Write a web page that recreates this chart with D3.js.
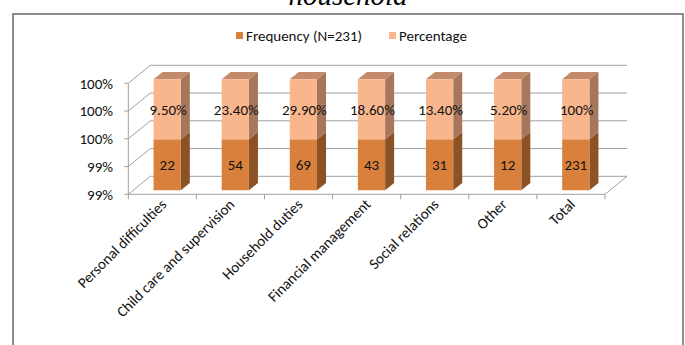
<!DOCTYPE html>
<html>
<head>
<meta charset="utf-8">
<script src="https://cdn.jsdelivr.net/npm/d3@7"></script>
<style>
  body { margin: 0; background: #fff; }
  svg { display: block; }
  text { font-family: Calibri, Carlito, "Open Sans", sans-serif; fill: #111; }
</style>
</head>
<body>
<svg id="chart" width="685" height="345"></svg>
<script>
// categories and labels
let categories = ['Personal difficulties', 'Child care and supervision', 'Household duties',
  'Financial management', 'Social relations', 'Other', 'Total'];
let frequency = [22, 54, 69, 43, 31, 12, 231];
let percentage = ['9.50%', '23.40%', '29.90%', '18.60%', '13.40%', '5.20%', '100%'];

// stack levels in axis units (the axis runs over 4 tick steps)
let freqTop = [1.84, 1.84, 1.84, 1.84, 1.84, 1.84, 1.84];
let pctTop = [4, 4, 4, 4, 4, 4, 4];

let tickValues = [0, 1, 2, 3, 4];
let tickLabels = ['99%', '99%', '100%', '100%', '100%'];

let seriesNames = ['Frequency (N=231)', 'Percentage'];

let colors = {
  freq: {front: '#d9813c', side: '#8b5226', top: '#b06a35'},
  pct: {front: '#f9b68d', side: '#a6775c', top: '#c48a6c'}
};

let fontSize = '15px';

let svg = d3.select('#chart');

// frame + clipped title
svg.append('rect')
  .attr('x', 13).attr('y', 14)
  .attr('width', 670).attr('height', 345)
  .attr('fill', 'none')
  .attr('stroke', '#8c8c8c')
  .attr('stroke-width', 2);

svg.append('text')
  .attr('x', 348).attr('y', 5)
  .attr('text-anchor', 'middle')
  .style('font-family', '"Liberation Serif", "DejaVu Serif", serif')
  .style('font-style', 'italic')
  .style('font-size', '29px')
  .style('fill', '#000')
  .text('household');

// 3d box geometry
let depth = {dx: 22, dy: -18};
let x = d3.scaleBand().domain(categories).range([128.3, 605]);
let y = d3.scaleLinear().domain([0, 4]).range([194.3, 83.3]);

function proj(px, py, z) {
  return [px + z * depth.dx, py + z * depth.dy];
}

let grid = svg.append('g').attr('stroke', '#a0a0a0').attr('fill', 'none').attr('stroke-width', 1);

// back wall gridlines and left wall diagonals
tickValues.forEach(t => {
  let f = proj(x.range()[0], y(t), 0);
  let b = proj(x.range()[0], y(t), 1);
  let br = proj(x.range()[1], y(t), 1);
  grid.append('path').attr('d', `M${f}L${b}L${br}`);
  grid.append('line')
    .attr('x1', f[0] - 4).attr('x2', f[0])
    .attr('y1', f[1]).attr('y2', f[1]);
});

// vertical axis line
grid.append('line')
  .attr('x1', x.range()[0]).attr('x2', x.range()[0])
  .attr('y1', y(0)).attr('y2', y(4));

// floor front + right diagonal
let fl = proj(x.range()[0], y(0), 0);
let fr = proj(x.range()[1], y(0), 0);
let br = proj(x.range()[1], y(0), 1);
grid.append('path').attr('d', `M${fl}L${fr}L${br}`);

// category ticks
let edges = categories.map(c => x(c)).concat([x.range()[1]]);
edges.forEach(e => {
  grid.append('line')
    .attr('x1', e).attr('x2', e)
    .attr('y1', y(0)).attr('y2', y(0) + 5);
});

// y labels
svg.append('g').selectAll('text')
  .data(tickValues)
  .join('text')
  .attr('x', 113)
  .attr('y', d => y(d))
  .attr('dy', '0.35em')
  .attr('text-anchor', 'end')
  .style('font-size', fontSize)
  .text((d, i) => tickLabels[i]);

// bars
let zf = 0.22, zb = 0.63;
let barW = x.bandwidth() * 0.4;

function drawSegment(g, cx, y0, y1, col, withTop) {
  let xl = cx - barW / 2, xr = cx + barW / 2;
  let a = proj(xl, y(y1), zf), b = proj(xr, y(y1), zf);
  let c = proj(xr, y(y0), zf), d = proj(xl, y(y0), zf);
  let bt = proj(xr, y(y1), zb), bb = proj(xr, y(y0), zb), at = proj(xl, y(y1), zb);
  g.append('path').attr('d', `M${b}L${bt}L${bb}L${c}Z`).attr('fill', col.side);
  if (withTop) g.append('path').attr('d', `M${a}L${at}L${bt}L${b}Z`).attr('fill', col.top);
  g.append('path').attr('d', `M${a}L${b}L${c}L${d}Z`).attr('fill', col.front);
  return [(xl + xr) / 2 + zf * depth.dx, (y(y0) + y(y1)) / 2 + zf * depth.dy];
}

let bars = svg.append('g');
categories.forEach((cat, i) => {
  let cx = x(cat) + x.bandwidth() / 2;
  let g = bars.append('g');
  let p1 = drawSegment(g, cx, 0, freqTop[i], colors.freq, false);
  let p2 = drawSegment(g, cx, freqTop[i], pctTop[i], colors.pct, true);
  g.append('text')
    .attr('x', p1[0]).attr('y', p1[1])
    .attr('dy', '0.35em').attr('text-anchor', 'middle')
    .style('font-size', fontSize)
    .text(frequency[i]);
  g.append('text')
    .attr('x', p2[0] + 1).attr('y', p2[1])
    .attr('dy', '0.35em').attr('text-anchor', 'middle')
    .style('font-size', fontSize)
    .text(percentage[i]);
});

// category labels
svg.append('g').selectAll('text')
  .data(categories)
  .join('text')
  .attr('transform', d => `translate(${x(d) + x.bandwidth() / 2 + 5},${y(0) + 11}) rotate(-45)`)
  .attr('text-anchor', 'end')
  .style('font-size', fontSize)
  .text(d => d);

// legend
let legend = svg.append('g');
let legendX = [236, 389];
seriesNames.forEach((name, i) => {
  let col = i === 0 ? colors.freq.front : colors.pct.front;
  legend.append('rect')
    .attr('x', legendX[i]).attr('y', 32)
    .attr('width', 7).attr('height', 7)
    .attr('fill', col);
  legend.append('text')
    .attr('x', legendX[i] + 10).attr('y', 36)
    .attr('dy', '0.35em')
    .style('font-size', fontSize)
    .text(name);
});
</script>
</body>
</html>
